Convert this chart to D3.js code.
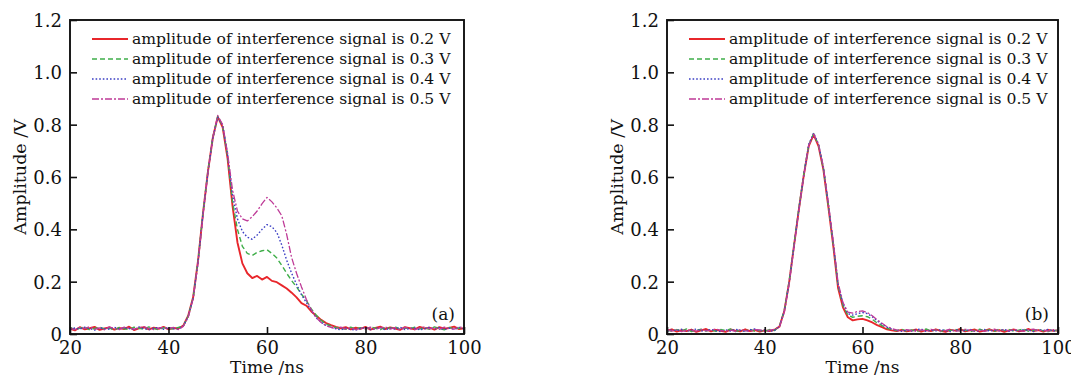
<!DOCTYPE html>
<html>
<head>
<meta charset="utf-8">
<script src="https://cdn.jsdelivr.net/npm/d3@7"></script>
<style>
  html, body { margin: 0; padding: 0; background: #fff; }
  svg text { font-family: "DejaVu Serif", "Liberation Serif", serif; fill: #111; }
</style>
</head>
<body>
<div id="chart"></div>
<script>
// sample times (ns)
const timeNs = [20,21,22,23,24,25,26,27,28,29,30,31,32,33,34,35,36,37,38,39,
  40,41,42,43,44,45,46,47,48,49,50,51,52,53,54,55,56,57,58,59,
  60,61,62,63,64,65,66,67,68,69,70,71,72,73,74,75,76,77,78,79,
  80,81,82,83,84,85,86,87,88,89,90,91,92,93,94,95,96,97,98,99,100];

const xTicks = [20, 40, 60, 80, 100];
const yTicks = [0, 0.2, 0.4, 0.6, 0.8, 1.0, 1.2];
const yTickLabels = ['0', '0.2', '0.4', '0.6', '0.8', '1.0', '1.2'];

const seriesNames = [
  'amplitude of interference signal is 0.2 V',
  'amplitude of interference signal is 0.3 V',
  'amplitude of interference signal is 0.4 V',
  'amplitude of interference signal is 0.5 V'
];

// panel (a) amplitudes /V
const a02 = [0.020,0.014,0.026,0.018,0.022,0.027,0.016,0.021,0.025,0.017,
  0.023,0.019,0.028,0.015,0.022,0.026,0.018,0.024,0.020,0.027,
  0.018,0.023,0.021,0.032,0.070,0.140,0.280,0.460,0.620,0.750,
  0.830,0.790,0.670,0.490,0.350,0.270,0.232,0.214,0.222,0.208,
  0.218,0.203,0.198,0.186,0.174,0.158,0.140,0.118,0.108,0.086,
  0.070,0.054,0.042,0.034,0.027,0.022,0.026,0.018,0.024,0.020,
  0.027,0.017,0.023,0.028,0.019,0.025,0.021,0.016,0.026,0.022,
  0.018,0.027,0.021,0.024,0.017,0.026,0.020,0.023,0.028,0.019,0.022];
const a03 = [0.024,0.018,0.022,0.027,0.016,0.021,0.026,0.019,0.023,0.015,
  0.025,0.020,0.017,0.026,0.022,0.018,0.027,0.021,0.016,0.024,
  0.022,0.019,0.025,0.030,0.068,0.138,0.278,0.462,0.622,0.752,
  0.832,0.795,0.680,0.505,0.400,0.335,0.308,0.300,0.312,0.318,
  0.322,0.308,0.290,0.262,0.232,0.204,0.180,0.152,0.128,0.096,
  0.072,0.052,0.038,0.030,0.025,0.021,0.018,0.026,0.020,0.024,
  0.019,0.027,0.022,0.017,0.025,0.021,0.028,0.018,0.023,0.020,
  0.026,0.019,0.024,0.018,0.027,0.021,0.016,0.025,0.020,0.023,0.018];
const a04 = [0.017,0.023,0.019,0.026,0.021,0.015,0.024,0.020,0.018,0.026,
  0.019,0.024,0.021,0.017,0.027,0.020,0.016,0.023,0.025,0.018,
  0.024,0.020,0.018,0.031,0.066,0.136,0.276,0.458,0.618,0.748,
  0.828,0.798,0.685,0.530,0.440,0.392,0.370,0.362,0.378,0.400,
  0.418,0.410,0.388,0.340,0.282,0.232,0.190,0.150,0.120,0.090,
  0.062,0.045,0.032,0.026,0.020,0.016,0.022,0.018,0.015,0.021,
  0.024,0.017,0.020,0.025,0.016,0.022,0.019,0.026,0.017,0.021,
  0.023,0.016,0.020,0.026,0.019,0.024,0.017,0.022,0.018,0.025,0.020];
const a05 = [0.022,0.017,0.025,0.021,0.028,0.018,0.023,0.016,0.027,0.020,
  0.017,0.026,0.022,0.019,0.024,0.028,0.021,0.017,0.022,0.026,
  0.020,0.025,0.017,0.029,0.064,0.134,0.272,0.455,0.615,0.752,
  0.835,0.800,0.690,0.550,0.470,0.440,0.432,0.448,0.470,0.498,
  0.522,0.505,0.482,0.452,0.380,0.292,0.232,0.180,0.132,0.092,
  0.062,0.044,0.032,0.025,0.021,0.026,0.019,0.024,0.017,0.023,
  0.020,0.026,0.018,0.023,0.027,0.019,0.024,0.016,0.025,0.021,
  0.017,0.023,0.027,0.020,0.024,0.018,0.026,0.021,0.019,0.027,0.024];

// panel (b) amplitudes /V
const b02 = [0.012,0.018,0.009,0.015,0.011,0.017,0.008,0.014,0.019,0.010,
  0.016,0.012,0.008,0.017,0.013,0.010,0.018,0.011,0.015,0.009,
  0.014,0.011,0.016,0.028,0.088,0.198,0.340,0.478,0.608,0.718,
  0.762,0.718,0.628,0.488,0.340,0.176,0.102,0.064,0.052,0.056,
  0.058,0.052,0.044,0.034,0.026,0.018,0.014,0.011,0.016,0.010,
  0.013,0.017,0.009,0.015,0.011,0.018,0.012,0.008,0.016,0.013,
  0.019,0.010,0.014,0.017,0.009,0.013,0.018,0.011,0.015,0.008,
  0.014,0.017,0.010,0.013,0.019,0.011,0.015,0.009,0.016,0.012,0.014];
const b03 = [0.015,0.010,0.017,0.012,0.019,0.009,0.014,0.018,0.011,0.016,
  0.010,0.017,0.013,0.019,0.009,0.015,0.012,0.018,0.010,0.014,
  0.011,0.017,0.013,0.030,0.090,0.202,0.344,0.482,0.612,0.722,
  0.766,0.722,0.632,0.494,0.346,0.184,0.110,0.072,0.064,0.068,
  0.070,0.066,0.056,0.042,0.032,0.022,0.017,0.013,0.018,0.011,
  0.016,0.010,0.014,0.019,0.012,0.015,0.009,0.017,0.013,0.018,
  0.011,0.016,0.009,0.014,0.018,0.012,0.016,0.010,0.019,0.013,
  0.017,0.011,0.015,0.019,0.010,0.014,0.018,0.012,0.009,0.016,0.012];
const b04 = [0.009,0.016,0.013,0.018,0.010,0.015,0.019,0.011,0.014,0.017,
  0.013,0.009,0.016,0.011,0.018,0.014,0.010,0.016,0.019,0.012,
  0.016,0.010,0.014,0.029,0.086,0.196,0.338,0.480,0.610,0.724,
  0.768,0.726,0.636,0.498,0.350,0.190,0.116,0.078,0.072,0.078,
  0.082,0.078,0.066,0.050,0.038,0.026,0.019,0.014,0.010,0.015,
  0.011,0.016,0.019,0.010,0.014,0.012,0.017,0.013,0.009,0.015,
  0.016,0.012,0.018,0.010,0.013,0.017,0.011,0.015,0.012,0.018,
  0.010,0.015,0.012,0.017,0.014,0.009,0.016,0.013,0.018,0.011,0.015];
const b05 = [0.018,0.011,0.015,0.009,0.016,0.013,0.011,0.018,0.012,0.015,
  0.019,0.014,0.011,0.015,0.010,0.017,0.013,0.009,0.017,0.016,
  0.010,0.015,0.018,0.027,0.084,0.194,0.336,0.476,0.606,0.720,
  0.764,0.724,0.638,0.502,0.356,0.196,0.120,0.084,0.080,0.086,
  0.088,0.082,0.070,0.054,0.041,0.028,0.021,0.016,0.012,0.017,
  0.014,0.010,0.016,0.012,0.018,0.015,0.011,0.014,0.019,0.010,
  0.013,0.018,0.015,0.011,0.016,0.010,0.014,0.019,0.012,0.016,
  0.012,0.018,0.014,0.010,0.016,0.019,0.012,0.015,0.011,0.017,0.013];

// line styles for the four series
const styles = [
  { color: '#e8262b', width: 1.9, dash: null },
  { color: '#3fae49', width: 1.4, dash: '5,3' },
  { color: '#3b3fc4', width: 1.4, dash: '1.6,2' },
  { color: '#be3a97', width: 1.3, dash: '7,2,2,2' }
];

const W = 1071, H = 376;

const svg = d3.select('#chart').append('svg')
  .attr('width', W)
  .attr('height', H);

function drawPanel(left, right, top, bottom, series, tag, id){
  const x = d3.scaleLinear().domain([20, 100]).range([left, right]);
  const y = d3.scaleLinear().domain([0, 1.2]).range([bottom, top]);
  const g = svg.append('g');

  // clip for the traces
  g.append('clipPath').attr('id', 'clip' + id)
    .append('rect')
    .attr('x', left).attr('y', top)
    .attr('width', right - left).attr('height', bottom - top);

  const line = d3.line()
    .x((d, i) => x(timeNs[i]))
    .y(d => y(d));

  g.append('g').attr('clip-path', `url(#clip${id})`)
    .selectAll('path')
    .data(series)
    .join('path')
    .attr('d', d => line(d))
    .attr('fill', 'none')
    .attr('stroke', (d, i) => styles[i].color)
    .attr('stroke-width', (d, i) => styles[i].width)
    .attr('stroke-dasharray', (d, i) => styles[i].dash)
    .attr('stroke-linejoin', 'round');

  // axes, ticks pointing inward
  const xAxis = d3.axisBottom(x).tickValues(xTicks).tickSizeInner(-7).tickSizeOuter(0).tickPadding(7);
  const yAxis = d3.axisLeft(y).tickValues(yTicks).tickFormat((d, i) => yTickLabels[i])
    .tickSizeInner(-7).tickSizeOuter(0).tickPadding(8);

  const gx = g.append('g').attr('transform', `translate(0,${bottom})`).call(xAxis);
  const gy = g.append('g').attr('transform', `translate(${left},0)`).call(yAxis);
  [gx, gy].forEach(a => {
    a.select('.domain').remove();
    a.selectAll('line').attr('stroke', '#111').attr('stroke-width', 1.6);
    a.selectAll('text').attr('font-size', 18).attr('font-family', '"DejaVu Serif", serif').attr('fill', '#111');
  });
  gy.selectAll('text').attr('dy', '0.36em');

  // frame
  g.append('rect')
    .attr('x', left).attr('y', top)
    .attr('width', right - left).attr('height', bottom - top)
    .attr('fill', 'none')
    .attr('stroke', '#111')
    .attr('stroke-width', 1.9);

  // axis titles
  g.append('text')
    .attr('x', (left + right) / 2).attr('y', 373)
    .attr('text-anchor', 'middle')
    .attr('font-size', 17)
    .text('Time /ns');
  g.append('text')
    .attr('transform', `translate(${left - 50},${(top + bottom) / 2}) rotate(-90)`)
    .attr('text-anchor', 'middle')
    .attr('dy', '0.35em')
    .attr('font-size', 17.5)
    .text('Amplitude /V');

  // legend
  const leg = g.append('g');
  seriesNames.forEach((name, i) => {
    const ly = top + 19 + i * 20;
    leg.append('line')
      .attr('x1', left + 22).attr('x2', left + 58)
      .attr('y1', ly).attr('y2', ly)
      .attr('stroke', styles[i].color)
      .attr('stroke-width', styles[i].width)
      .attr('stroke-dasharray', styles[i].dash);
    leg.append('text')
      .attr('x', left + 62).attr('y', ly)
      .attr('dy', '0.35em')
      .attr('font-size', 15.6)
      .text(name);
  });

  // panel tag
  g.append('text')
    .attr('x', right - 9).attr('y', bottom - 14)
    .attr('text-anchor', 'end')
    .attr('font-size', 17)
    .text(tag);
}

drawPanel(70, 464, 20, 334, [a02, a03, a04, a05], '(a)', 'a');
drawPanel(667, 1058, 20, 334, [b02, b03, b04, b05], '(b)', 'b');
</script>
</body>
</html>
